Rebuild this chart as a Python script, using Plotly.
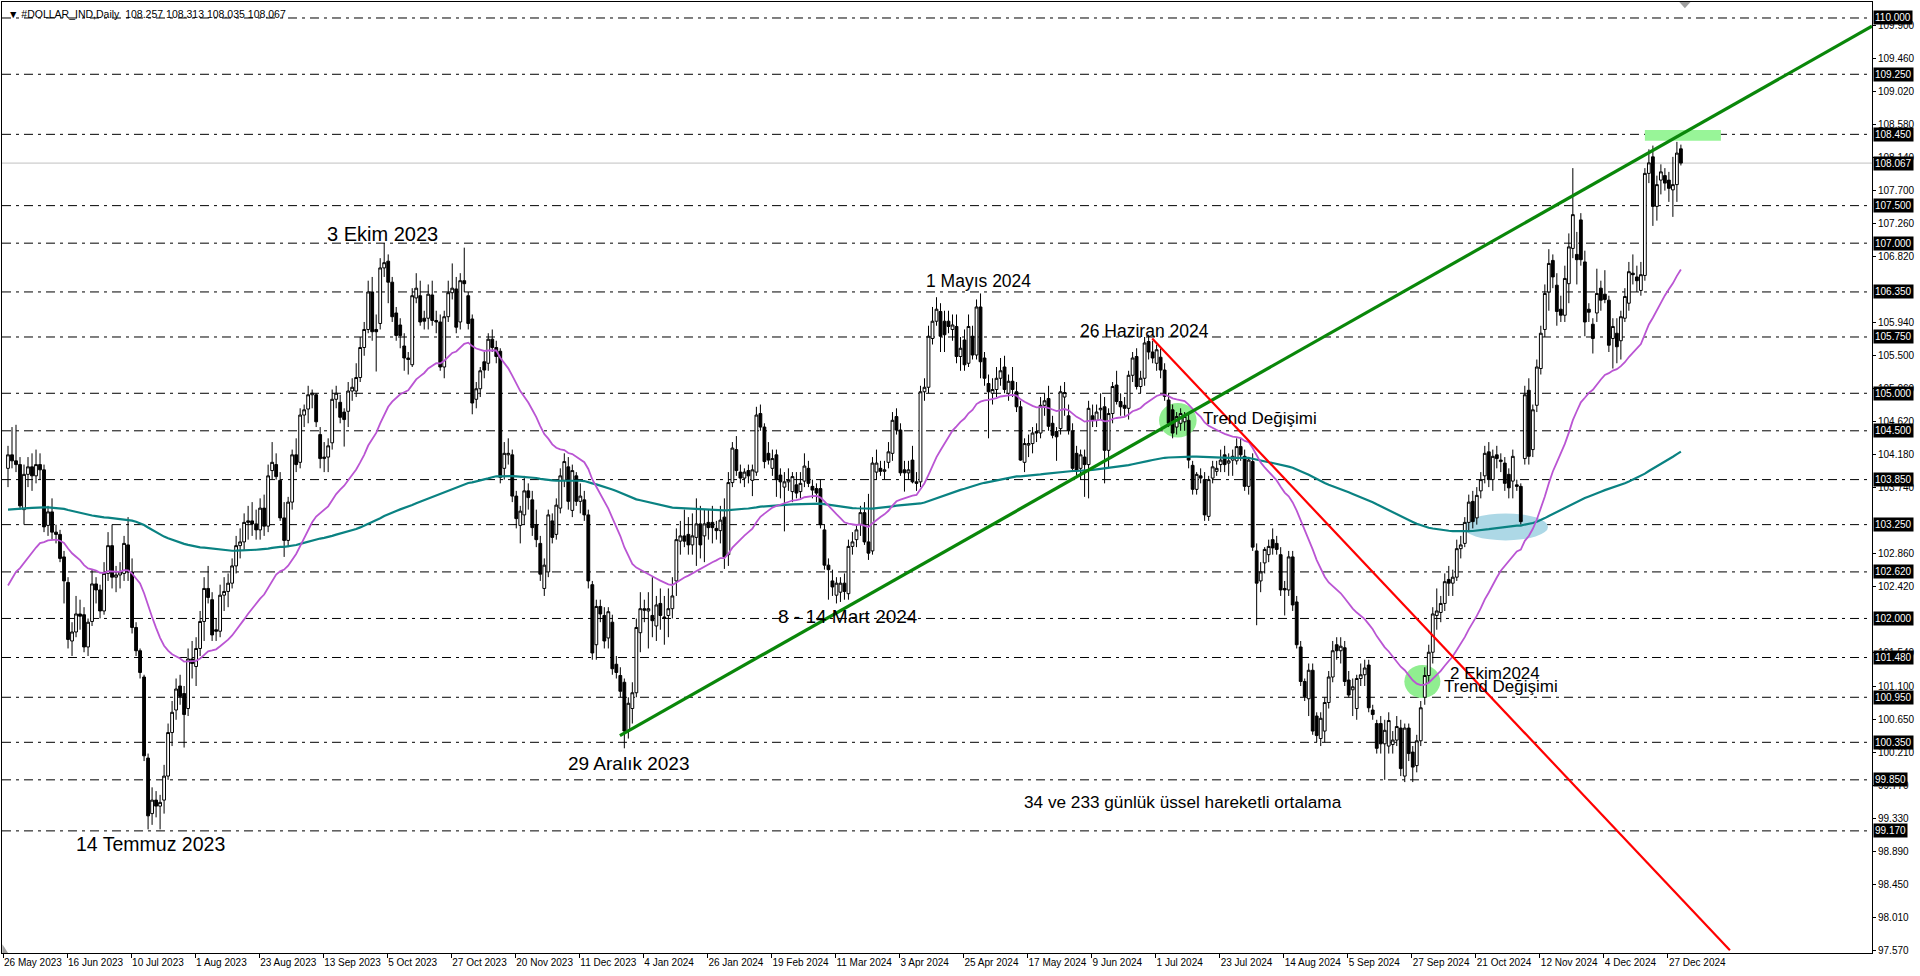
import plotly.graph_objects as go

# ---------------- DATA ----------------
opens = [
    104.00,104.18,104.10,104.05,103.45,103.92,104.02,103.90,104.05,103.98,
    103.24,103.42,103.15,103.12,102.82,102.48,101.70,101.82,102.06,102.05,
    101.62,101.96,102.46,102.38,102.10,102.60,102.97,102.55,102.58,102.60,
    102.98,102.62,101.88,101.57,101.22,100.14,99.40,99.58,99.50,99.58,
    99.90,100.48,100.78,101.10,101.00,100.80,101.46,101.36,101.60,101.96,
    102.40,102.25,101.85,101.83,102.31,102.36,102.47,102.70,102.97,103.02,
    103.28,103.30,103.26,103.18,103.47,103.23,103.97,104.05,103.84,103.34,
    103.04,103.55,104.18,104.08,104.71,104.79,104.98,104.98,104.45,104.13,
    104.15,104.34,104.92,104.88,104.75,104.76,105.03,105.03,105.21,105.61,
    105.85,106.35,105.85,105.93,106.67,106.76,106.48,106.07,105.91,105.63,
    105.47,105.38,106.27,106.30,106.00,106.00,106.31,105.97,105.95,105.35,
    106.02,106.34,106.39,105.95,106.50,106.30,105.99,104.92,105.06,105.42,
    105.40,105.72,105.61,105.56,104.00,104.18,104.18,103.63,103.24,103.38,
    103.70,103.58,103.25,103.00,102.40,102.62,103.30,103.12,103.47,103.84,
    104.02,103.44,103.90,103.56,103.58,103.38,102.45,101.65,102.16,102.04,
    101.74,101.95,101.39,101.24,101.15,100.50,100.80,101.01,101.81,102.13,
    102.10,102.04,101.90,102.20,102.02,102.04,102.13,102.50,103.03,103.10,
    103.12,102.98,103.08,103.26,103.10,103.28,103.28,103.20,103.17,103.35,
    102.85,103.81,104.25,103.95,103.87,103.97,103.84,103.95,104.73,104.55,
    104.20,104.00,104.18,103.91,103.75,103.82,103.69,103.78,103.69,103.83,
    104.00,103.76,103.73,103.73,103.18,102.71,102.50,102.31,102.35,102.47,
    102.33,102.96,103.05,103.25,103.41,103.02,102.90,103.95,104.00,103.96,
    104.08,104.20,104.69,104.51,103.98,103.94,104.11,103.82,103.82,105.02,
    105.08,105.73,105.96,106.09,105.96,105.96,105.85,105.89,105.49,105.71,
    105.40,105.76,105.51,106.15,105.47,105.13,105.00,105.05,105.20,105.35,
    105.00,105.16,105.02,104.82,104.08,104.31,104.33,104.49,104.47,104.84,
    104.93,104.60,104.49,104.53,104.95,104.70,104.50,104.20,104.00,104.15,
    104.05,104.70,104.64,104.78,104.82,104.24,104.73,105.11,104.89,104.84,
    104.80,105.24,105.49,105.09,105.20,105.69,105.55,105.40,105.48,105.31,
    104.91,104.78,104.55,104.60,104.62,104.64,104.04,103.72,103.90,103.85,
    103.36,103.87,103.96,104.05,104.18,104.07,104.11,104.10,104.29,104.16,
    103.76,104.09,102.90,102.50,102.74,102.85,103.05,103.00,102.85,102.40,
    102.38,102.82,102.22,101.62,101.16,100.93,101.31,100.70,100.40,100.50,
    100.88,101.22,101.65,101.57,101.61,101.18,101.05,100.80,101.20,101.25,
    101.38,100.78,100.60,100.60,100.33,100.30,100.32,100.38,100.54,99.90,
    100.54,100.22,100.04,100.37,100.95,101.24,101.55,102.04,102.08,102.20,
    102.52,102.47,102.55,102.93,103.00,103.28,103.56,103.34,103.70,103.90,
    104.22,103.85,104.18,104.09,104.07,103.92,103.83,103.78,103.76,104.13,
    105.04,104.25,104.84,105.33,105.85,106.35,106.77,106.44,106.12,106.04,
    106.46,106.93,106.85,107.31,106.75,106.12,105.92,106.07,106.40,106.32,
    106.24,105.73,105.80,105.70,106.00,106.20,106.60,106.55,106.37,106.57,
    107.93,108.15,107.49,107.84,107.90,107.84,107.71,107.78,108.257,
]
highs = [
    104.30,104.55,104.58,104.15,104.05,104.15,104.20,104.25,104.20,104.05,
    103.50,103.60,103.25,103.18,102.90,102.55,101.95,102.30,102.25,102.15,
    102.00,102.65,102.55,102.45,102.75,103.15,103.25,102.70,102.75,103.10,
    103.35,102.80,101.95,101.60,101.25,100.20,99.75,99.70,99.65,100.05,
    100.60,100.90,101.20,101.25,101.10,101.60,101.70,101.75,102.10,102.55,
    102.70,102.35,102.00,102.45,102.55,102.60,102.80,103.10,103.20,103.40,
    103.50,103.55,103.45,103.60,103.65,104.05,104.35,104.20,103.95,103.55,
    103.62,104.25,104.40,104.80,104.85,105.10,105.05,105.00,104.55,104.35,
    104.40,105.05,105.10,104.98,104.80,105.15,105.20,105.40,105.75,105.95,
    106.50,106.55,106.05,106.80,107.00,106.85,106.55,106.15,106.00,105.80,
    105.55,106.40,106.60,106.50,106.10,106.45,106.50,106.10,106.05,106.10,
    106.50,106.73,106.55,106.60,106.94,106.35,106.05,105.15,105.35,105.55,
    105.80,105.85,105.70,105.60,104.35,104.40,104.25,103.70,103.50,103.90,
    103.80,103.70,103.45,103.10,102.80,103.45,103.40,103.60,104.00,104.20,
    104.15,104.05,103.95,103.80,103.70,103.45,102.50,102.25,102.25,102.15,
    102.15,102.05,101.50,101.35,101.20,100.95,101.15,102.00,102.35,102.25,
    102.35,102.55,102.30,102.40,102.30,102.40,102.55,103.20,103.30,103.45,
    103.35,103.40,103.60,103.50,103.45,103.45,103.50,103.30,103.50,103.60,
    103.95,104.35,104.43,104.05,104.00,104.05,104.05,104.82,104.85,104.60,
    104.35,104.25,104.25,104.00,103.95,104.00,103.95,103.95,103.95,104.20,
    104.10,103.85,103.80,103.85,103.25,102.80,102.65,102.55,102.55,102.60,
    103.05,103.15,103.25,103.50,103.55,103.66,104.15,104.25,104.10,104.10,
    104.35,104.75,104.80,104.60,104.10,104.10,104.30,103.95,105.10,105.20,
    105.90,106.15,106.28,106.20,106.10,106.10,106.05,106.05,105.75,105.85,
    106.05,105.90,106.25,106.33,105.55,105.25,105.20,105.35,105.47,105.50,
    105.25,105.35,105.15,104.90,104.40,104.45,104.55,104.60,104.95,105.00,
    105.10,104.70,104.55,105.10,105.15,104.85,104.60,104.30,104.25,104.25,
    104.90,104.85,104.85,105.00,104.95,104.80,105.15,105.30,105.00,104.95,
    105.30,105.55,105.60,105.30,105.75,105.78,105.70,105.65,105.60,105.40,
    105.00,104.85,104.75,104.80,104.75,104.75,104.10,103.95,104.00,103.95,
    103.90,104.10,104.10,104.25,104.30,104.20,104.25,104.40,104.40,104.25,
    104.15,104.20,103.00,102.75,102.95,103.05,103.20,103.10,102.95,102.50,
    102.90,102.90,102.30,101.70,101.20,101.40,101.40,100.75,100.75,100.95,
    101.30,101.70,101.75,101.75,101.70,101.30,101.20,101.25,101.40,101.45,
    101.45,100.85,100.65,100.70,100.65,100.75,100.50,100.70,100.65,100.60,
    100.60,100.30,100.45,100.90,101.35,101.65,102.15,102.40,102.30,102.60,
    102.70,102.65,103.05,103.10,103.35,103.65,103.70,103.75,103.95,104.30,
    104.35,104.25,104.30,104.20,104.15,104.00,104.25,103.85,103.80,105.10,
    105.20,104.85,105.45,105.90,106.45,106.92,106.85,106.60,106.30,106.70,
    107.13,108.00,107.15,107.40,106.90,106.20,106.00,106.66,106.50,106.64,
    106.30,106.00,106.00,106.10,106.40,106.75,106.85,106.70,106.75,108.00,
    108.25,108.30,107.90,108.05,108.00,107.95,108.15,108.35,108.313,
]
lows = [
    103.75,104.00,103.95,103.45,103.25,103.75,103.70,103.80,103.85,103.15,
    103.10,103.05,103.00,102.75,102.20,101.60,101.50,101.75,101.85,101.55,
    101.50,101.90,102.20,102.00,102.05,102.50,102.40,102.35,102.40,102.50,
    102.50,101.80,101.50,101.20,100.10,99.19,99.25,99.35,99.19,99.40,
    99.85,100.30,100.65,100.85,100.28,100.70,101.20,101.10,101.50,101.70,
    102.20,101.70,101.70,101.75,102.10,102.15,102.40,102.60,102.80,102.90,
    103.05,103.10,103.05,103.05,103.10,103.15,103.85,103.85,103.30,102.82,
    102.95,103.45,103.95,104.00,104.55,104.60,104.80,104.55,104.00,103.95,
    103.95,104.25,104.80,104.60,104.29,104.55,104.90,104.95,105.15,105.50,
    105.80,105.70,105.29,105.85,106.55,106.20,105.95,105.70,105.60,105.30,
    105.25,105.35,106.20,105.90,105.85,105.85,105.90,105.80,105.30,105.20,
    105.95,106.25,105.80,105.85,106.35,105.85,104.72,104.80,104.95,105.20,
    105.30,105.55,105.40,103.80,103.85,104.05,103.55,103.20,103.00,103.25,
    103.45,103.10,102.95,102.50,102.30,102.55,103.00,103.05,103.40,103.75,
    103.45,103.35,103.50,103.40,103.30,102.40,101.45,101.45,101.95,101.60,
    101.60,101.25,101.20,100.95,100.27,100.40,100.60,100.95,101.55,101.95,
    101.60,101.75,101.70,101.85,101.65,101.75,102.00,102.30,102.85,102.95,
    102.85,102.85,102.70,102.80,102.75,103.05,103.00,103.05,103.00,102.66,
    102.70,103.75,103.90,103.80,103.75,103.80,103.63,103.90,104.50,104.00,
    104.05,103.90,103.62,103.60,103.16,103.70,103.55,103.60,103.60,103.75,
    103.75,103.60,103.55,103.20,102.65,102.25,102.30,102.20,102.22,102.25,
    102.25,102.85,102.95,103.10,102.98,102.78,102.85,103.85,103.90,103.85,
    104.00,104.10,104.45,103.90,103.69,103.85,103.80,103.70,103.75,104.90,
    105.00,105.65,105.90,105.55,105.55,105.80,105.70,105.40,105.30,105.30,
    105.35,105.45,105.45,105.20,105.10,104.40,104.85,104.95,105.10,105.00,
    104.90,104.95,104.75,104.10,103.95,104.15,104.20,104.35,104.40,104.70,
    104.50,104.40,104.10,104.45,104.70,104.45,103.95,103.90,103.85,103.62,
    103.60,104.55,104.55,104.65,103.80,104.00,104.60,104.85,104.70,104.70,
    104.65,105.15,105.05,105.00,105.10,105.45,105.40,105.30,105.20,104.90,
    104.55,104.40,104.45,104.50,104.50,104.00,103.65,103.65,103.80,103.30,
    103.30,103.80,103.90,103.95,103.95,103.90,103.90,104.05,104.10,103.70,
    103.65,102.90,101.91,102.35,102.60,102.75,102.85,102.85,102.30,102.04,
    102.30,102.10,101.60,101.10,100.90,100.70,100.45,100.35,100.30,100.35,
    100.80,101.15,101.45,101.40,101.10,100.95,100.70,100.65,101.10,101.10,
    100.75,100.65,100.20,100.20,99.85,100.20,100.20,100.30,99.90,99.82,
    100.10,99.82,99.95,100.30,100.85,101.15,101.40,101.85,101.95,102.10,
    102.30,102.30,102.50,102.80,102.95,103.15,103.20,103.25,103.60,103.80,
    103.75,103.70,104.00,103.95,103.70,103.60,103.60,103.70,103.25,104.05,
    104.05,104.15,104.75,105.25,105.75,106.10,106.40,105.90,105.95,105.95,
    106.20,106.80,106.45,106.70,105.76,105.95,105.53,105.95,106.10,106.20,
    105.55,105.33,105.40,105.45,105.95,106.10,106.45,106.35,106.30,106.50,
    107.80,107.23,107.30,107.65,107.70,107.55,107.35,107.55,108.035,
]
closes = [
    104.18,104.10,104.05,103.50,103.92,104.02,103.90,104.05,103.98,103.22,
    103.42,103.15,103.12,102.80,102.50,101.72,101.82,102.06,102.03,101.62,
    101.95,102.46,102.38,102.10,102.60,102.97,102.55,102.58,102.62,103.00,
    102.62,101.88,101.57,101.28,100.17,99.37,99.58,99.50,99.55,99.90,
    100.48,100.75,101.06,100.96,100.72,101.46,101.40,101.60,101.96,102.40,
    102.28,101.78,101.83,102.31,102.36,102.47,102.70,102.97,103.02,103.28,
    103.30,103.26,103.18,103.47,103.23,103.90,104.08,103.89,103.34,103.04,
    103.55,104.18,104.05,104.71,104.78,104.98,105.00,104.62,104.13,104.15,
    104.30,104.92,105.00,104.68,104.65,105.03,105.08,105.21,105.61,105.85,
    106.35,105.82,105.82,106.67,106.74,106.48,106.02,105.77,105.77,105.47,
    105.45,106.30,106.40,105.95,105.96,106.32,105.97,105.95,105.35,106.02,
    106.34,106.40,105.88,106.50,106.46,105.93,104.87,105.06,105.30,105.31,
    105.72,105.61,105.49,103.88,104.20,104.20,103.63,103.33,103.43,103.70,
    103.61,103.21,103.05,102.59,102.71,103.38,103.08,103.51,103.90,104.09,
    103.56,103.97,103.56,103.63,103.38,102.50,101.54,102.16,102.06,101.70,
    102.09,101.33,101.28,101.03,100.50,100.87,101.01,101.88,102.13,102.11,
    102.13,101.97,102.18,102.04,102.00,102.13,102.30,103.05,103.10,103.03,
    102.98,103.10,103.26,102.98,103.26,103.21,103.21,103.17,103.31,102.82,
    103.81,104.27,103.97,103.87,103.95,103.90,103.98,104.71,104.55,104.09,
    104.11,104.13,103.85,103.82,103.82,103.85,103.89,103.67,103.80,104.03,
    103.80,103.71,103.67,103.25,102.71,102.65,102.42,102.47,102.47,102.36,
    102.96,103.02,103.18,103.41,103.02,102.87,104.07,104.07,103.96,103.98,
    104.22,104.64,104.51,103.94,103.94,103.98,103.82,103.80,105.02,105.08,
    105.76,105.96,106.12,105.76,105.78,105.89,105.91,105.49,105.60,105.38,
    105.89,105.51,106.15,105.42,105.20,105.02,105.05,105.20,105.30,105.05,
    105.16,105.05,104.82,104.11,104.33,104.33,104.47,104.47,104.84,104.90,
    104.56,104.44,104.42,105.02,105.01,104.50,104.00,103.97,104.18,104.05,
    104.80,104.64,104.75,104.80,104.24,104.73,105.09,104.89,104.82,104.80,
    105.24,105.47,105.09,105.20,105.67,105.55,105.47,105.58,105.31,104.96,
    104.60,104.47,104.69,104.73,104.69,104.11,103.72,103.92,103.87,103.38,
    103.85,104.02,104.00,104.11,104.05,104.10,104.16,104.29,104.18,103.76,
    104.11,102.95,102.47,102.62,102.92,102.96,102.94,102.92,102.38,102.38,
    102.82,102.18,101.65,101.16,100.96,101.31,100.50,100.44,100.67,100.88,
    101.22,101.57,101.57,101.63,101.16,100.98,101.09,101.20,101.25,101.34,
    100.81,100.72,100.27,100.33,100.51,100.64,100.38,100.56,100.00,100.54,
    100.20,100.02,100.37,100.81,101.24,101.55,102.06,102.10,102.20,102.49,
    102.47,102.55,102.93,102.98,103.28,103.55,103.29,103.64,103.85,104.20,
    103.85,104.16,104.13,104.11,103.80,103.74,104.16,103.76,103.29,104.98,
    104.16,104.78,105.35,105.80,106.33,106.73,106.55,106.09,106.04,106.53,
    106.95,107.38,106.78,106.78,105.95,106.08,105.73,106.33,106.24,106.25,
    105.64,105.89,105.62,106.02,106.29,106.62,106.58,106.50,106.58,107.93,
    108.07,107.49,107.78,107.95,107.80,107.73,107.78,108.20,108.067,
]
assert len(opens) == len(highs) == len(lows) == len(closes)

# exponential moving averages (periods and starting values)
ema_fast_period = 34
ema_slow_period = 233
ema_fast_start = 102.44
ema_slow_start = 103.45

# time-scale labels (one every 16 bars)
date_labels = [
    "26 May 2023", "16 Jun 2023", "10 Jul 2023", "1 Aug 2023", "23 Aug 2023",
    "13 Sep 2023", "5 Oct 2023", "27 Oct 2023", "20 Nov 2023", "11 Dec 2023",
    "4 Jan 2024", "26 Jan 2024", "19 Feb 2024", "11 Mar 2024", "3 Apr 2024",
    "25 Apr 2024", "17 May 2024", "9 Jun 2024", "1 Jul 2024", "23 Jul 2024",
    "14 Aug 2024", "5 Sep 2024", "27 Sep 2024", "21 Oct 2024", "12 Nov 2024",
    "4 Dec 2024", "27 Dec 2024",
]
# price-scale labels (those fully hidden behind level boxes are left out)
price_ticks = [
    97.570, 98.010, 98.450, 98.890, 99.330, 99.770, 100.210, 100.650,
    101.100, 101.540, 102.420, 102.860, 103.740, 104.180,
    104.620, 105.060, 105.500, 105.940, 106.820, 107.260, 107.700,
    108.140, 108.580, 109.020, 109.460, 109.900,
]
# horizontal support / resistance levels
level_lines = [
    110.000, 109.250, 108.450, 107.500, 107.000, 106.350, 105.750, 105.000,
    104.500, 103.850, 103.250, 102.620, 102.000, 101.480, 100.950, 100.350,
    99.850, 99.170,
]
# trend lines: (bar, price) anchor points
uptrend_bars = [152.9, 465.75]
uptrend_prices = [100.44, 109.89]
downtrend_bars = [285.9, 430.25]
downtrend_prices = [105.73, 97.58]

# text notes: (text, bar, price)
notes = [
    ("3 Ekim 2023", 79.25, 107.12),
    ("14 Temmuz 2023", 16.5, 99.00),
    ("29 Aralık 2023", 139.5, 100.07),
    ("8 - 14 Mart 2024", 192.0, 102.03),
    ("1 Mayıs 2024", 229.0, 106.50),
    ("26 Haziran 2024", 267.25, 105.83),
    ("Trend Değişimi", 298.0, 104.66),
    ("2 Ekim2024", 359.75, 101.27),
    ("Trend Değişimi", 358.25, 101.09),
    ("34 ve 233 günlük üssel hareketli ortalama", 253.25, 99.555),
]
note_font_sizes = [20, 19.5, 19, 19, 17.5, 17.5, 17, 17, 17, 17.2]

# ---------------- derived ----------------
n = len(closes)
bars = list(range(n))


def ema(values, period, start):
    a = 2.0 / (period + 1)
    out = [start]
    for v in values[1:]:
        out.append(out[-1] + a * (v - out[-1]))
    return out


ema_fast = ema(closes, ema_fast_period, ema_fast_start)
ema_slow = ema(closes, ema_slow_period, ema_slow_start)

X_MIN, X_MAX = -1.5, 465.75
Y_MIN, Y_MAX = 97.543, 110.213
TXT_FONT = "Liberation Sans"

fig = go.Figure()

fig.add_trace(go.Candlestick(
    x=bars, open=opens, high=highs, low=lows, close=closes,
    increasing=dict(line=dict(color="black", width=1), fillcolor="white"),
    decreasing=dict(line=dict(color="black", width=1), fillcolor="black"),
    whiskerwidth=0, hoverinfo="skip", showlegend=False,
))
fig.add_trace(go.Scatter(x=bars, y=ema_slow, mode="lines",
                         line=dict(color="#0A8282", width=2.2),
                         hoverinfo="skip", showlegend=False))
fig.add_trace(go.Scatter(x=bars, y=ema_fast, mode="lines",
                         line=dict(color="#BA55D3", width=1.8),
                         hoverinfo="skip", showlegend=False))
fig.add_trace(go.Scatter(x=uptrend_bars, y=uptrend_prices, mode="lines",
                         line=dict(color="#0A870A", width=3.2),
                         hoverinfo="skip", showlegend=False))
fig.add_trace(go.Scatter(x=downtrend_bars, y=downtrend_prices, mode="lines",
                         line=dict(color="#FF0000", width=2.2),
                         hoverinfo="skip", showlegend=False))

shapes = []
# background highlights
shapes.append(dict(type="circle", xref="x", yref="y", x0=287.6, x1=297.0,
                   y0=104.41, y1=104.87, fillcolor="#90EE90",
                   line=dict(width=0), layer="below"))
shapes.append(dict(type="circle", xref="x", yref="y", x0=348.9, x1=357.9,
                   y0=100.94, y1=101.38, fillcolor="#90EE90",
                   line=dict(width=0), layer="below"))
shapes.append(dict(type="circle", xref="x", yref="y", x0=363.6, x1=384.8,
                   y0=103.04, y1=103.40, fillcolor="#ADD8E6",
                   line=dict(width=0), layer="below"))
shapes.append(dict(type="rect", xref="x", yref="y", x0=409.0, x1=428.0,
                   y0=108.365, y1=108.508, fillcolor="#98F598",
                   line=dict(width=0), layer="below"))
# dash-dot level lines
for lv in level_lines:
    shapes.append(dict(type="line", xref="paper", yref="y", x0=0, x1=1,
                       y0=lv, y1=lv, layer="below",
                       line=dict(color="black", width=1,
                                 dash="9px,5px,3px,5px")))
# current price line
shapes.append(dict(type="line", xref="paper", yref="y", x0=0, x1=1,
                   y0=closes[-1], y1=closes[-1], layer="below",
                   line=dict(color="#C0C0C0", width=1)))
# chart-shift marker at the top
shapes.append(dict(type="path", xref="x", yref="y",
                   path=f"M 417.6 {Y_MAX} L 420.4 {Y_MAX} L 419.0 110.13 Z",
                   fillcolor="#A0A0A0", line=dict(width=0)))
# scale marker at the bottom-left
shapes.append(dict(type="path", xref="x", yref="y",
                   path=f"M -1.4 {Y_MIN} L 0.0 {Y_MIN} L -1.4 97.66 Z",
                   fillcolor="#A0A0A0", line=dict(width=0)))

annotations = []
for (txt, bx, py), fs in zip(notes, note_font_sizes):
    annotations.append(dict(x=bx, y=py, xref="x", yref="y", text=txt,
                            showarrow=False, xanchor="left", yanchor="middle",
                            font=dict(family=TXT_FONT, size=fs, color="black")))
# black price boxes on the price scale
for lv in level_lines + [closes[-1]]:
    annotations.append(dict(x=1, y=lv, xref="paper", yref="y",
                            text=f"{lv:.3f}", showarrow=False,
                            xanchor="left", yanchor="middle", xshift=1,
                            bgcolor="black", borderpad=1,
                            font=dict(family=TXT_FONT, size=10, color="white")))
# chart header
annotations.append(dict(
    x=0, y=1, xref="paper", yref="paper", xanchor="left", yanchor="top",
    xshift=4, yshift=-4, showarrow=False,
    text=(f"▼ #DOLLAR_IND,Daily  {opens[-1]:.3f} {highs[-1]:.3f} "
          f"{lows[-1]:.3f} {closes[-1]:.3f}"),
    font=dict(family=TXT_FONT, size=10.5, color="black")))

fig.update_layout(
    width=1920, height=976, autosize=False,
    margin=dict(l=2, r=48, t=2, b=23, pad=0),
    paper_bgcolor="white", plot_bgcolor="white",
    showlegend=False, hovermode=False,
    boxgap=0.3, boxgroupgap=0,
    shapes=shapes, annotations=annotations,
    xaxis=dict(
        range=[X_MIN, X_MAX], rangeslider=dict(visible=False),
        showgrid=False, zeroline=False,
        showline=True, mirror=True, linecolor="black", linewidth=1,
        ticks="outside", ticklen=4, tickcolor="black",
        tickvals=[16 * k - 1.25 for k in range(len(date_labels))],
        ticktext=date_labels, ticklabelposition="outside right",
        tickangle=0,
        tickfont=dict(family=TXT_FONT, size=10, color="black"),
        fixedrange=True,
    ),
    yaxis=dict(
        range=[Y_MIN, Y_MAX], side="right",
        showgrid=False, zeroline=False,
        showline=True, mirror=True, linecolor="black", linewidth=1,
        ticks="outside", ticklen=3, tickcolor="black",
        tickvals=price_ticks, ticktext=[f"{v:.3f}" for v in price_ticks],
        tickfont=dict(family=TXT_FONT, size=10, color="black"),
        fixedrange=True,
    ),
)

fig.write_html("out.html", config={"displayModeBar": False},
               post_script="document.body.style.margin='0';"
                           "document.body.style.overflow='hidden';")
